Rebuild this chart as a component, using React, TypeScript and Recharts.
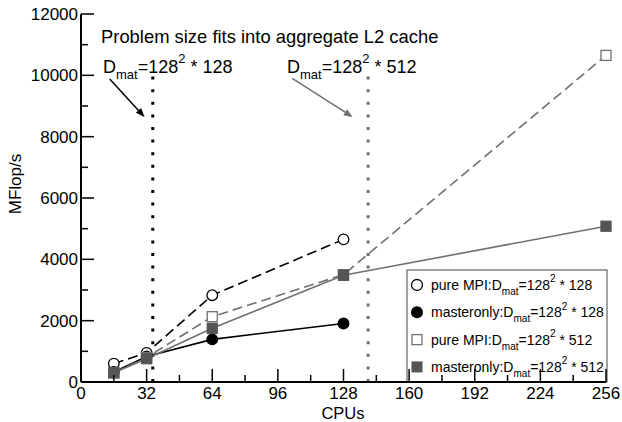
import React from 'react';
import { ComposedChart, Line, XAxis, YAxis, ReferenceLine } from 'recharts';

// CPUs on the x axis
const cpus = [16, 32, 64, 128, 256];
// MFlop/s per series (128-series stop at 128 CPUs)
const pureMpi128 = [600, 950, 2830, 4650, null];
const masteronly128 = [330, 830, 1390, 1910, null];
const pureMpi512 = [300, 800, 2130, 3500, 10650];
const masteronly512 = [300, 760, 1750, 3480, 5080];

const xTicks = [0, 16, 32, 48, 64, 80, 96, 112, 128, 144, 160, 176, 192, 208, 224, 240, 256];
const yTicks = [0, 1000, 2000, 3000, 4000, 5000, 6000, 7000, 8000, 9000, 10000, 11000, 12000];

// where each problem size stops fitting into the aggregate L2 cache
const cacheLimitCpus = [35, 140];
const cacheLimitTop = 10000;
// annotation arrows: [fromCpu, fromMflops, toCpu, toMflops]
const arrows = [
  [14, 9880, 31, 8640],
  [103, 9900, 132.5, 8640],
];

const data = cpus.map((c, i) => ({
  cpus: c,
  pm128: pureMpi128[i],
  mo128: masteronly128[i],
  pm512: pureMpi512[i],
  mo512: masteronly512[i],
}));

const FONT = '"Liberation Sans", Arial, Helvetica, sans-serif';
const GRAY = '#707070';
const DARK = '#555555';

function MatText({ x, y, prefix, size, fs, fill = '#000' }: any) {
  const sub = Math.round(fs * 0.7);
  return (
    <text x={x} y={y} fontSize={fs} fontFamily={FONT} fill={fill}>
      {prefix}D
      <tspan dy={fs * 0.35} fontSize={sub}>mat</tspan>
      <tspan dy={-fs * 0.35}>=128</tspan>
      <tspan dy={-fs * 0.55} fontSize={sub}>2</tspan>
      <tspan dy={fs * 0.55}>{` * ${size}`}</tspan>
    </text>
  );
}

const XTick = (p: any) => {
  const { x, y, payload, top } = p;
  const major = payload.value % 32 === 0;
  const len = major ? 13 : 7;
  return (
    <g>
      <line x1={x} x2={x} y1={y} y2={top ? y + len : y - len} stroke="#000" strokeWidth={1.5} />
      {major && !top && (
        <text x={x} y={y + 17} textAnchor="middle" fontSize={17} fontFamily={FONT} fill="#000">
          {payload.value}
        </text>
      )}
    </g>
  );
};

const YTick = (p: any) => {
  const { x, y, payload, right } = p;
  const major = payload.value % 2000 === 0;
  const len = major ? 13 : 7;
  return (
    <g>
      <line x1={x} x2={right ? x - len : x + len} y1={y} y2={y} stroke="#000" strokeWidth={1.5} />
      {major && !right && (
        <text x={x - 3} y={y + 6} textAnchor="end" fontSize={17} fontFamily={FONT} fill="#000">
          {payload.value}
        </text>
      )}
    </g>
  );
};

const arrowShape = (color: string) => (p: any) => {
  const { x1, y1, x2, y2 } = p;
  const a = Math.atan2(y2 - y1, x2 - x1);
  const L = 9;
  const W = 3.5;
  const bx = x2 - L * Math.cos(a);
  const by = y2 - L * Math.sin(a);
  const pts = `${x2},${y2} ${bx + W * Math.sin(a)},${by - W * Math.cos(a)} ${bx - W * Math.sin(a)},${by + W * Math.cos(a)}`;
  return (
    <g>
      <line x1={x1} y1={y1} x2={bx} y2={by} stroke={color} strokeWidth={1.5} />
      <polygon points={pts} fill={color} />
    </g>
  );
};

const circleDot = (fill: string) => (p: any) => {
  if (p.cx == null || p.cy == null || p.value == null) return <g key={p.index} />;
  return <circle key={p.index} cx={p.cx} cy={p.cy} r={5.3} fill={fill} stroke="#000" strokeWidth={1.3} />;
};

const squareDot = (fill: string, stroke: string) => (p: any) => {
  if (p.cx == null || p.cy == null || p.value == null) return <g key={p.index} />;
  return <rect key={p.index} x={p.cx - 5} y={p.cy - 5} width={10} height={10} fill={fill} stroke={stroke} strokeWidth={1.3} />;
};

const legendItems = [
  { prefix: 'pure MPI:', size: 128, marker: 'oc' },
  { prefix: 'masteronly:', size: 128, marker: 'fc' },
  { prefix: 'pure MPI:', size: 512, marker: 'os' },
  { prefix: 'masteronly:', size: 512, marker: 'fs' },
];

function LegendBox() {
  const x0 = 407;
  const y0 = 270;
  return (
    <g>
      <rect x={x0} y={y0} width={200} height={112} fill="#fff" stroke="#444" strokeWidth={1} />
      {legendItems.map((it, i) => {
        const cy = 285 + i * 27.3;
        let m;
        if (it.marker === 'oc') m = <circle cx={417} cy={cy} r={5.5} fill="#fff" stroke="#000" strokeWidth={1.3} />;
        else if (it.marker === 'fc') m = <circle cx={417} cy={cy} r={6} fill="#000" />;
        else if (it.marker === 'os') m = <rect x={412} y={cy - 5} width={10} height={10} fill="#fff" stroke={GRAY} strokeWidth={1.3} />;
        else m = <rect x={411.5} y={cy - 5.5} width={11} height={11} fill={DARK} />;
        return (
          <g key={i}>
            {m}
            <MatText x={431} y={cy + 5} prefix={it.prefix} size={it.size} fs={14} />
          </g>
        );
      })}
    </g>
  );
}

export default function App() {
  return (
    <div style={{ position: 'absolute', left: 0, top: 0, background: '#fff' }}>
      <ComposedChart
        width={622}
        height={422}
        data={data}
        margin={{ top: 14, right: 16, bottom: 0, left: 0 }}
      >
        <XAxis
          dataKey="cpus"
          type="number"
          domain={[0, 256]}
          ticks={xTicks}
          interval={0}
          height={40}
          tickSize={0}
          tickMargin={0}
          tickLine={false}
          axisLine={{ stroke: '#000', strokeWidth: 2 }}
          tick={<XTick />}
        />
        <XAxis
          xAxisId="top"
          orientation="top"
          dataKey="cpus"
          type="number"
          domain={[0, 256]}
          ticks={xTicks}
          interval={0}
          height={0}
          tickSize={0}
          tickMargin={0}
          tickLine={false}
          axisLine={{ stroke: '#000', strokeWidth: 2 }}
          tick={<XTick top />}
        />
        <YAxis
          type="number"
          domain={[0, 12000]}
          ticks={yTicks}
          interval={0}
          width={81}
          tickSize={0}
          tickMargin={0}
          tickLine={false}
          axisLine={{ stroke: '#000', strokeWidth: 2 }}
          tick={<YTick />}
        />
        <YAxis
          yAxisId="right"
          orientation="right"
          type="number"
          domain={[0, 12000]}
          ticks={yTicks}
          interval={0}
          width={0}
          tickSize={0}
          tickMargin={0}
          tickLine={false}
          axisLine={{ stroke: '#000', strokeWidth: 2 }}
          tick={<YTick right />}
        />

        <ReferenceLine
          segment={[{ x: cacheLimitCpus[0], y: 0 }, { x: cacheLimitCpus[0], y: cacheLimitTop }]}
          stroke="#000"
          strokeWidth={3}
          strokeDasharray="3 9.6"
        />
        <ReferenceLine
          segment={[{ x: cacheLimitCpus[1], y: 0 }, { x: cacheLimitCpus[1], y: cacheLimitTop }]}
          stroke={GRAY}
          strokeWidth={3}
          strokeDasharray="3 9.6"
        />
        <ReferenceLine
          segment={[{ x: arrows[0][0], y: arrows[0][1] }, { x: arrows[0][2], y: arrows[0][3] }]}
          shape={arrowShape('#000')}
        />
        <ReferenceLine
          segment={[{ x: arrows[1][0], y: arrows[1][1] }, { x: arrows[1][2], y: arrows[1][3] }]}
          shape={arrowShape(GRAY)}
        />

        <Line
          dataKey="pm128"
          stroke="#000"
          strokeWidth={1.6}
          strokeDasharray="10 5"
          dot={circleDot('#fff')}
          isAnimationActive={false}
        />
        <Line
          dataKey="mo128"
          stroke="#000"
          strokeWidth={1.6}
          dot={circleDot('#000')}
          isAnimationActive={false}
        />
        <Line
          dataKey="pm512"
          stroke={GRAY}
          strokeWidth={1.6}
          strokeDasharray="10 5"
          dot={squareDot('#fff', GRAY)}
          isAnimationActive={false}
        />
        <Line
          dataKey="mo512"
          stroke={GRAY}
          strokeWidth={1.6}
          dot={squareDot(DARK, DARK)}
          isAnimationActive={false}
        />

        <text x={101} y={43} fontSize={18.4} fontFamily={FONT} fill="#000">
          Problem size fits into aggregate L2 cache
        </text>
        <MatText x={103} y={73} prefix="" size={128} fs={18} />
        <MatText x={287} y={73} prefix="" size={512} fs={18} />
        <text x={343} y={419} textAnchor="middle" fontSize={16.5} fontFamily={FONT} fill="#000">
          CPUs
        </text>
        <text
          x={0}
          y={0}
          transform="translate(21,184) rotate(-90)"
          textAnchor="middle"
          fontSize={17}
          fontFamily={FONT}
          fill="#000"
        >
          MFlop/s
        </text>
        <LegendBox />
      </ComposedChart>
    </div>
  );
}
